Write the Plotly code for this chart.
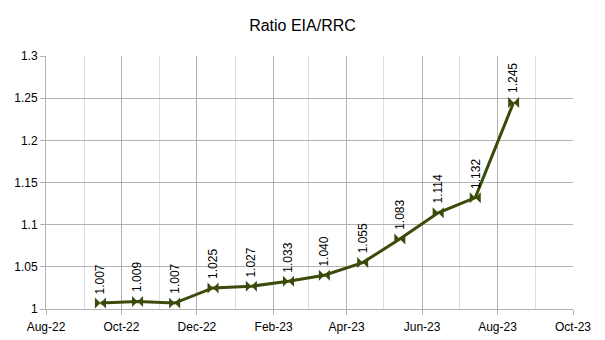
import plotly.graph_objects as go

dates = ["2022-09-14", "2022-10-14", "2022-11-13", "2022-12-14", "2023-01-14", "2023-02-13",
         "2023-03-14", "2023-04-14", "2023-05-14", "2023-06-14", "2023-07-14", "2023-08-14"]
ratio = [1.007, 1.009, 1.007, 1.025, 1.027, 1.033, 1.040, 1.055, 1.083, 1.114, 1.132, 1.245]

color = "#3b4b0b"
font = "Liberation Sans, Arial, sans-serif"

fig = go.Figure()
fig.add_trace(go.Scatter(
    x=dates, y=ratio, mode="lines+markers",
    line=dict(color=color, width=3),
    marker=dict(symbol="bowtie", size=11, color=color, line=dict(width=0)),
    showlegend=False, cliponaxis=False,
))

for d, v in zip(dates, ratio):
    fig.add_annotation(x=d, y=v, text=f"{v:.3f}", showarrow=False, textangle=-90,
                       xanchor="center", yanchor="bottom", yshift=7,
                       font=dict(family=font, size=12, color="#000000"))

fig.update_layout(
    width=605, height=340,
    margin=dict(l=46, r=32, t=56, b=31),
    paper_bgcolor="white", plot_bgcolor="white",
    title=dict(text="Ratio EIA/RRC", x=0.5, xanchor="center", y=0.925, yanchor="middle",
               font=dict(family=font, size=16, color="#000000")),
    font=dict(family=font, size=12, color="#000000"),
)
fig.update_xaxes(
    type="date", range=["2022-08-01", "2023-10-01"],
    tick0="2022-08-01", dtick="M2", tickformat="%b-%y",
    showgrid=True, gridcolor="#b3b3b3", gridwidth=1,
    minor=dict(dtick="M1", showgrid=True, gridcolor="#dddddd", ticks=""),
    showline=True, linecolor="#b3b3b3", ticks="outside", ticklen=5, tickcolor="#b3b3b3",
    zeroline=False, tickfont=dict(size=12), ticklabelstandoff=2, automargin=False,
)
fig.update_yaxes(
    range=[1, 1.3], dtick=0.05, tick0=1,
    showgrid=True, gridcolor="#b3b3b3", gridwidth=1,
    showline=True, linecolor="#b3b3b3", ticks="outside", ticklen=5, tickcolor="#b3b3b3",
    zeroline=False, tickfont=dict(size=12), automargin=False,
)

fig.write_html("out.html")
